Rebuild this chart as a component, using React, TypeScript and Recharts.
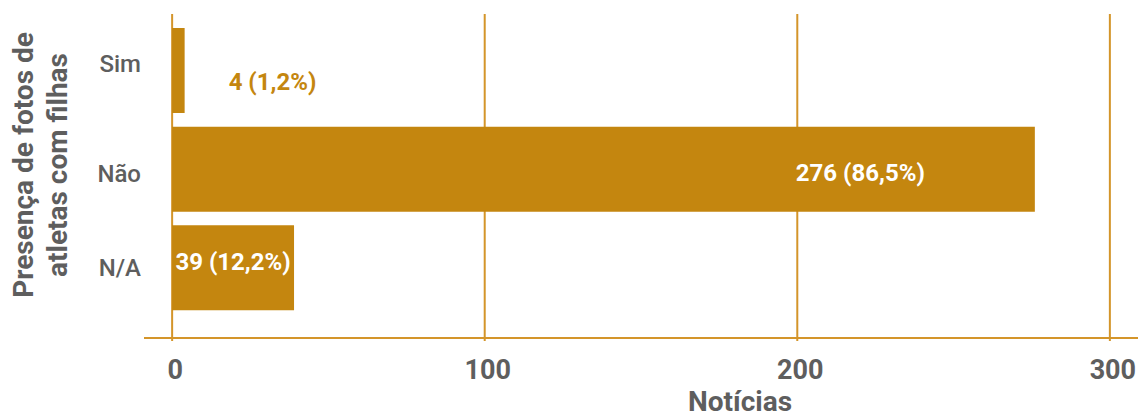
import React from 'react';
import { BarChart, Bar, XAxis, YAxis, CartesianGrid, LabelList, Label } from 'recharts';

const categories = ['Sim', 'Não', 'N/A'];
const counts = [4, 276, 39];
const labels = ['4 (1,2%)', '276 (86,5%)', '39 (12,2%)'];
const xTicks = [0, 100, 200, 300];

const data = categories.map((c, i) => ({ cat: c, n: counts[i], lbl: labels[i] }));

const GOLD = '#C4860F';
const GRID = '#D4952A';
const GRAY = '#5E5E5E';
const FONT = 'Roboto, "Noto Sans", sans-serif';

const DataLabel = (props: any) => {
  const { x, y, width, height, index, value } = props;
  const cy = y + height / 2;
  if (index === 0) {
    return (
      <text x={x + width + 44} y={cy + 19} fill={GOLD} fontSize={24} fontWeight={700} fontFamily={FONT} textAnchor="start">
        {value}
      </text>
    );
  }
  if (index === 1) {
    return (
      <text x={x + width - 110} y={cy + 12} fill="#FFFFFF" fontSize={24} fontWeight={700} fontFamily={FONT} textAnchor="end">
        {value}
      </text>
    );
  }
  return (
    <text x={x + width / 2} y={cy + 2} fill="#FFFFFF" fontSize={24} fontWeight={700} fontFamily={FONT} textAnchor="middle">
      {value}
    </text>
  );
};

const YTitle = () => (
  <g>
    <text transform="translate(33,165) rotate(-90)" textAnchor="middle" fill={GRAY} fontSize={28} fontWeight={700} fontFamily={FONT}>
      Presença de fotos de
    </text>
    <text transform="translate(67,165) rotate(-90)" textAnchor="middle" fill={GRAY} fontSize={28} fontWeight={700} fontFamily={FONT}>
      atletas com filhas
    </text>
  </g>
);

const YTick = (props: any) => {
  const { x, y, payload, index } = props;
  const shift = index === 0 ? -7 : index === 1 ? 4 : 0;
  return (
    <text x={x} y={y + shift} dy="0.355em" textAnchor="end" fill={GRAY} fontSize={24} fontWeight={500} fontFamily={FONT}>
      {payload.value}
    </text>
  );
};

export default function App() {
  return (
    <div style={{ position: 'absolute', left: 0, top: 0, width: 1138, height: 419, background: '#fff' }}>
      <BarChart
        width={1138}
        height={419}
        data={data}
        layout="vertical"
        margin={{ top: 14, right: 0, left: 0, bottom: 21 }}
      >
        <CartesianGrid horizontal={false} stroke={GRID} strokeWidth={2} syncWithTicks />
        <XAxis
          type="number"
          dataKey="n"
          domain={[-9, 309]}
          ticks={xTicks}
          allowDataOverflow
          height={60}
          axisLine={{ stroke: GRID, strokeWidth: 2 }}
          tickLine={{ stroke: GRID, strokeWidth: 2 }}
          tickSize={3}
          tickMargin={19}
          tick={{ fill: GRAY, fontSize: 27, fontWeight: 700, fontFamily: FONT, dx: 3 }}
        >
          <Label value="Notícias" position="bottom" offset={-7} dx={99} fill={GRAY} fontSize={28} fontWeight={700} fontFamily={FONT} />
        </XAxis>
        <YAxis
          type="category"
          dataKey="cat"
          width={144}
          axisLine={false}
          tickLine={false}
          tickSize={0}
          tickMargin={3}
          padding={{ top: 7, bottom: 21 }}
          tick={<YTick />}
          label={<YTitle />}
        />
        <Bar dataKey="n" fill={GOLD} barSize={85} isAnimationActive={false}>
          <LabelList dataKey="lbl" content={<DataLabel />} />
        </Bar>
      </BarChart>
    </div>
  );
}
